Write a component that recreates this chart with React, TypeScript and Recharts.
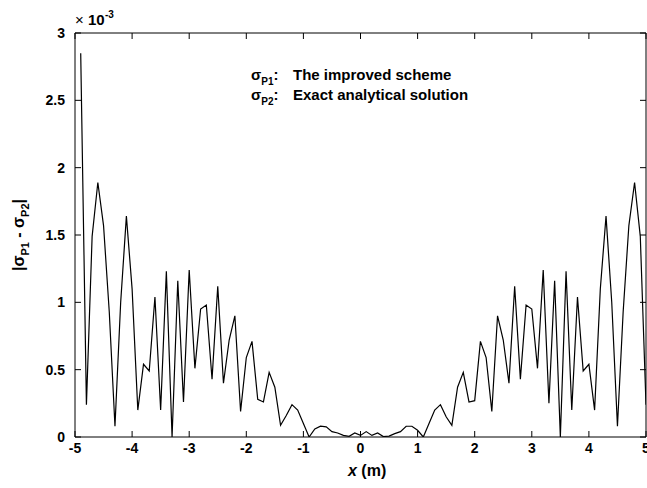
import React from 'react';
import { LineChart, Line, XAxis, YAxis } from 'recharts';

const xValues = [
  -4.9, -4.8, -4.7, -4.6, -4.5, -4.4, -4.3, -4.2, -4.1, -4.0,
  -3.9, -3.8, -3.7, -3.6, -3.5, -3.4, -3.3, -3.2, -3.1, -3.0,
  -2.9, -2.8, -2.7, -2.6, -2.5, -2.4, -2.3, -2.2, -2.1, -2.0,
  -1.9, -1.8, -1.7, -1.6, -1.5, -1.4, -1.3, -1.2, -1.1, -1.0,
  -0.9, -0.8, -0.7, -0.6, -0.5, -0.4, -0.3, -0.2, -0.1, 0.0,
  0.1, 0.2, 0.3, 0.4, 0.5, 0.6, 0.7, 0.8, 0.9, 1.0,
  1.1, 1.2, 1.3, 1.4, 1.5, 1.6, 1.7, 1.8, 1.9, 2.0,
  2.1, 2.2, 2.3, 2.4, 2.5, 2.6, 2.7, 2.8, 2.9, 3.0,
  3.1, 3.2, 3.3, 3.4, 3.5, 3.6, 3.7, 3.8, 3.9, 4.0,
  4.1, 4.2, 4.3, 4.4, 4.5, 4.6, 4.7, 4.8, 4.9, 5.0,
];

// |sigma_P1 - sigma_P2| in units of 1e-3
const diffValues = [
  2.85, 0.24, 1.49, 1.89, 1.57, 0.93, 0.08, 1.0, 1.64, 1.1,
  0.2, 0.54, 0.49, 1.04, 0.2, 1.23, 0.0, 1.16, 0.26, 1.24,
  0.51, 0.95, 0.98, 0.43, 1.12, 0.4, 0.72, 0.9, 0.19, 0.59,
  0.71, 0.28, 0.26, 0.48, 0.37, 0.087, 0.16, 0.24, 0.2, 0.1,
  0.0, 0.06, 0.08, 0.075, 0.04, 0.03, 0.012, 0.005, 0.03, 0.012,
  0.04, 0.012, 0.03, 0.003, 0.007, 0.025, 0.04, 0.08, 0.08, 0.05,
  0.0, 0.1, 0.2, 0.24, 0.15, 0.087, 0.37, 0.48, 0.26, 0.27,
  0.71, 0.59, 0.19, 0.9, 0.72, 0.4, 1.12, 0.43, 0.98, 0.95,
  0.51, 1.24, 0.25, 1.16, 0.0, 1.23, 0.2, 1.04, 0.49, 0.54,
  0.2, 1.1, 1.64, 1.0, 0.08, 0.93, 1.57, 1.89, 1.49, 0.24,
];

const xTicks = [-5, -4, -3, -2, -1, 0, 1, 2, 3, 4, 5];
const yTicks = [0, 0.5, 1, 1.5, 2, 2.5, 3];

const data = xValues.map((x, i) => ({ x, y: diffValues[i] }));

const FONT = '"Liberation Sans", Arial, Helvetica, sans-serif';
const TICK_LEN = 6;
const X_MARGIN = 10;
const Y_MARGIN = 10;

const BottomTick = (props: any) => {
  const { x, y, payload } = props;
  const axisY = y - X_MARGIN;
  return (
    <g>
      <line x1={x} y1={axisY} x2={x} y2={axisY - TICK_LEN} stroke="#000" strokeWidth={1} />
      <text x={x} y={y + 6} textAnchor="middle" fontFamily={FONT} fontSize={14} fontWeight="bold" fill="#000">
        {payload.value}
      </text>
    </g>
  );
};

const TopTick = (props: any) => {
  const { x, y } = props;
  return <line x1={x} y1={y} x2={x} y2={y + TICK_LEN} stroke="#000" strokeWidth={1} />;
};

const LeftTick = (props: any) => {
  const { x, y, payload } = props;
  const axisX = x + Y_MARGIN;
  return (
    <g>
      <line x1={axisX} y1={y} x2={axisX + TICK_LEN} y2={y} stroke="#000" strokeWidth={1} />
      <text x={x} y={y + 5} textAnchor="end" fontFamily={FONT} fontSize={14} fontWeight="bold" fill="#000">
        {payload.value}
      </text>
    </g>
  );
};

const RightTick = (props: any) => {
  const { x, y } = props;
  return <line x1={x} y1={y} x2={x - TICK_LEN} y2={y} stroke="#000" strokeWidth={1} />;
};

export default function App() {
  return (
    <div style={{ position: 'absolute', left: 0, top: 0, width: 647, height: 488, background: '#fff' }}>
      <LineChart
        width={647}
        height={488}
        data={data}
        margin={{ top: 32, right: 0, bottom: 0, left: 0 }}
      >
        <XAxis
          dataKey="x"
          type="number"
          domain={[-5, 5]}
          ticks={xTicks}
          allowDataOverflow
          height={51}
          tickSize={0}
          tickMargin={X_MARGIN}
          interval={0}
          axisLine={{ stroke: '#000', strokeWidth: 1 }}
          tickLine={false}
          tick={<BottomTick />}
        />
        <XAxis
          xAxisId="top"
          orientation="top"
          dataKey="x"
          type="number"
          domain={[-5, 5]}
          ticks={xTicks}
          allowDataOverflow
          height={1}
          tickSize={0}
          tickMargin={0}
          interval={0}
          axisLine={{ stroke: '#000', strokeWidth: 1 }}
          tickLine={false}
          tick={<TopTick />}
        />
        <YAxis
          type="number"
          domain={[0, 3]}
          ticks={yTicks}
          allowDataOverflow
          width={75}
          tickSize={0}
          tickMargin={Y_MARGIN}
          interval={0}
          axisLine={{ stroke: '#000', strokeWidth: 1 }}
          tickLine={false}
          tick={<LeftTick />}
        />
        <YAxis
          yAxisId="right"
          orientation="right"
          type="number"
          domain={[0, 3]}
          ticks={yTicks}
          allowDataOverflow
          width={1}
          tickSize={0}
          tickMargin={0}
          interval={0}
          axisLine={{ stroke: '#000', strokeWidth: 1 }}
          tickLine={false}
          tick={<RightTick />}
        />
        <Line
          dataKey="y"
          type="linear"
          stroke="#000"
          strokeWidth={1.2}
          dot={false}
          activeDot={false}
          isAnimationActive={false}
        />
      </LineChart>
      <svg
        width={647}
        height={488}
        style={{ position: 'absolute', left: 0, top: 0, pointerEvents: 'none' }}
      >
        <g fontFamily={FONT} fill="#000">
          <text x={75} y={25} fontSize={15}>×</text>
          <text x={88} y={25} fontSize={15} fontWeight="bold">10</text>
          <text x={105} y={18} fontSize={10} fontWeight="bold">-3</text>

          <text x={251} y={80} fontSize={15} fontWeight="bold">
            σ<tspan fontSize={10} dy={5}>P1</tspan><tspan dy={-5}>:</tspan>
          </text>
          <text x={293} y={80} fontSize={15} fontWeight="bold">The improved scheme</text>
          <text x={251} y={100} fontSize={15} fontWeight="bold">
            σ<tspan fontSize={10} dy={5}>P2</tspan><tspan dy={-5}>:</tspan>
          </text>
          <text x={293} y={100} fontSize={15} fontWeight="bold">Exact analytical solution</text>

          <text
            transform="translate(24,235) rotate(-90)"
            textAnchor="middle"
            fontSize={16}
            fontWeight="bold"
          >
            |σ<tspan fontSize={11} dy={5}>P1</tspan><tspan dy={-5}> - σ</tspan><tspan fontSize={11} dy={5}>P2</tspan><tspan dy={-5}>|</tspan>
          </text>

          <text x={348} y={476} fontSize={16} fontWeight="bold">
            <tspan fontStyle="italic">x</tspan> (m)
          </text>
        </g>
      </svg>
    </div>
  );
}
